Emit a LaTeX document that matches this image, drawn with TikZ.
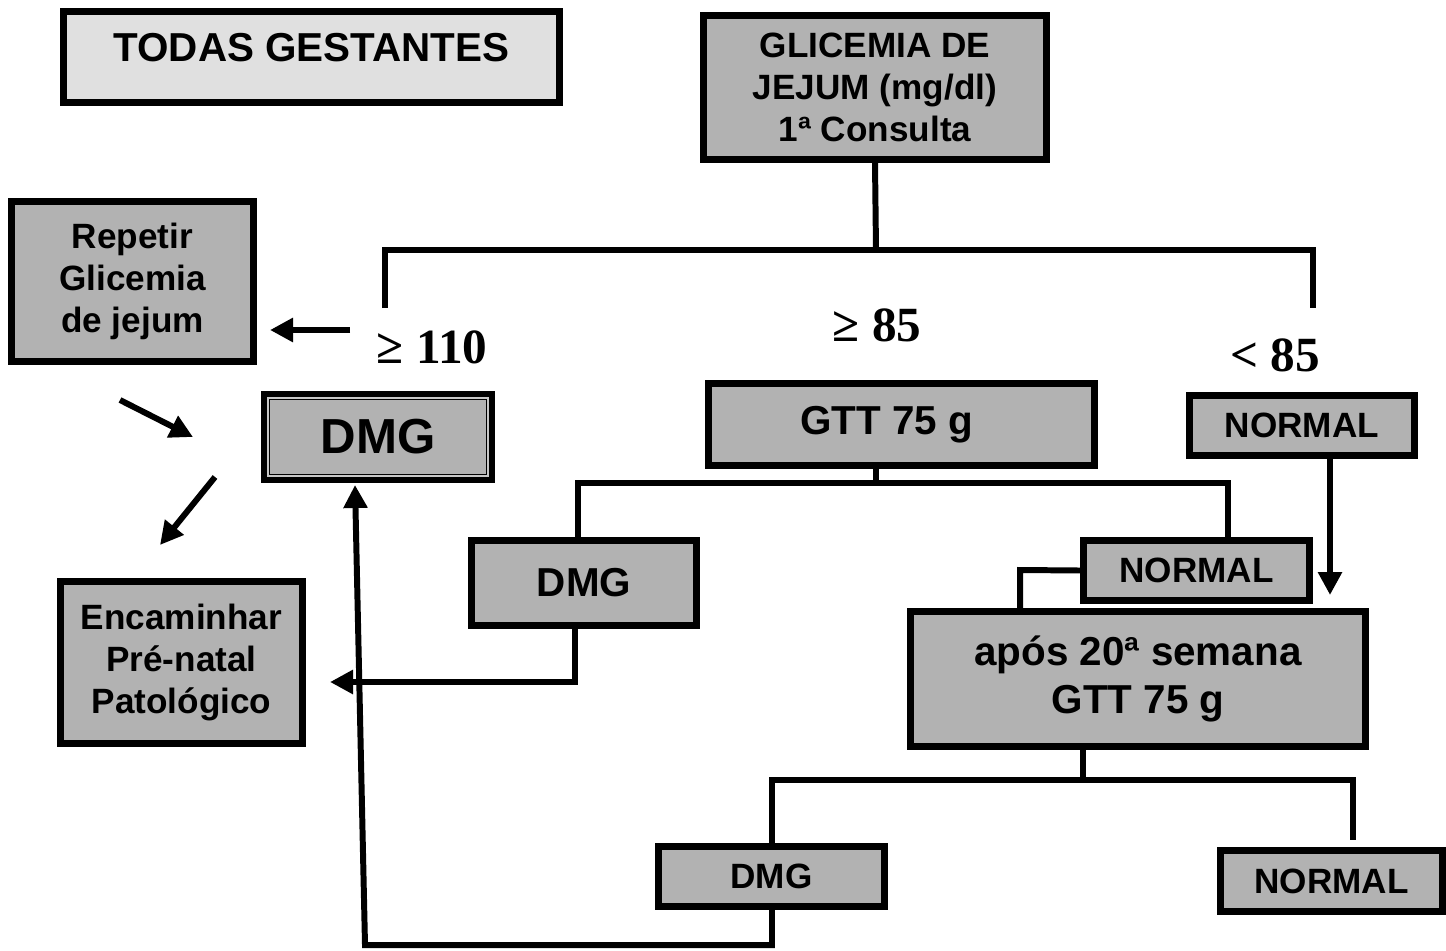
\documentclass[tikz,border=0pt]{standalone}
\usepackage{fontspec}
\setmainfont{Liberation Sans}
\newfontfamily\timesfont{Liberation Serif}
\usepackage{xcolor}
\usepackage{tikz}
\usetikzlibrary{arrows.meta}

\definecolor{boxfill}{gray}{0.70}
\definecolor{topfill}{gray}{0.88}
\definecolor{rimfill}{gray}{0.78}

\begin{document}
\begin{tikzpicture}[x=0.02cm, y=-0.02cm,
    box/.style={draw, line width=4pt, fill=boxfill, align=center, inner sep=0pt,
        font=\bfseries\fontsize{20}{24}\selectfont},
    link/.style={line width=3.4pt},
    arr/.style={line width=3.4pt, -{Triangle[length=0.46cm, width=0.46cm]}},
    cutoff/.style={font=\timesfont\bfseries\fontsize{28}{30}\selectfont}]
        \useasboundingbox (0,0) rectangle (1446,950);

        \node[box, fill=topfill, minimum width=9.92cm, minimum height=1.82cm,
            font=\bfseries\fontsize{23}{26}\selectfont] (Todas) at (311.5,57)
            {\raisebox{0.4cm}{TODAS GESTANTES}};
        \node[box, minimum width=6.86cm, minimum height=2.88cm] (Glicemia) at (875,87.5)
            {GLICEMIA DE\\JEJUM (mg/dl)\\1ª Consulta};
        \node[box, minimum width=4.84cm, minimum height=3.2cm] (Repetir) at (132.5,281.5)
            {Repetir\\Glicemia\\de jejum};
        \node[box, line width=5pt, minimum width=4.5cm, minimum height=1.66cm,
            font=\bfseries\fontsize{28}{30}\selectfont] (DmgA) at (378,437) {DMG};
        \draw[rimfill, line width=1.5pt] ([shift={(0.14cm,-0.14cm)}]DmgA.north west)
            rectangle ([shift={(-0.14cm,0.14cm)}]DmgA.south east);
        \node[box, minimum width=7.72cm, minimum height=1.64cm,
            font=\bfseries\fontsize{23}{26}\selectfont] (GttA) at (901.5,424.5)
            {GTT 75 g\hspace{0.6cm}};
        \node[box, minimum width=4.5cm, minimum height=1.2cm] (NormalA) at (1302,425.5) {NORMAL};
        \node[box, minimum width=4.5cm, minimum height=1.7cm,
            font=\bfseries\fontsize{23}{26}\selectfont] (DmgB) at (584,583) {DMG};
        \node[box, minimum width=4.52cm, minimum height=1.2cm] (NormalB) at (1196.5,570.5) {NORMAL};
        \node[box, minimum width=9.1cm, minimum height=2.7cm,
            font=\bfseries\fontsize{23}{27}\selectfont] (GttB) at (1138,679) {após 20ª semana\\GTT 75 g};
        \node[box, minimum width=4.84cm, minimum height=3.24cm] (Encaminhar) at (181.5,662.5)
            {Encaminhar\\Pré-natal\\Patológico};
        \node[box, minimum width=4.52cm, minimum height=1.2cm] (DmgC) at (771.5,876.5) {DMG};
        \node[box, minimum width=4.44cm, minimum height=1.22cm] (NormalC) at (1331.5,881) {NORMAL};

        \node[cutoff] (Ge110) at (432,347) {≥ 110};
        \node[cutoff] (Ge85) at (877,325) {≥ 85};
        \node[cutoff] (Lt85) at (1275,355) {< 85};

        % first split
        \coordinate (BusA) at (876,250);
        \coordinate (LegL) at (385,308);
        \coordinate (LegR) at (1313,308);
        \draw[link] (Glicemia.south) -- (BusA);
        \draw[link] (LegL) |- (BusA) -| (LegR);

        \coordinate (RepFrom) at (350,330);
        \coordinate (RepTo) at (270,330);
        \coordinate (DiagA1) at (120,400);
        \coordinate (DiagA2) at (193,437);
        \coordinate (DiagB1) at (215,477);
        \coordinate (DiagB2) at (160,545);
        \draw[arr] (RepFrom) -- (RepTo);
        \draw[arr] (DiagA1) -- (DiagA2);
        \draw[arr] (DiagB1) -- (DiagB2);

        % GTT split
        \coordinate (BusB) at (876,483);
        \coordinate (BusBL) at (578,483);
        \coordinate (BusBR) at (1228,483);
        \draw[link] (GttA.south -| BusB) -- (BusB);
        \draw[link] (BusBL |- DmgB.north) -- (BusBL) -- (BusBR) -- (BusBR |- NormalB.north);

        \coordinate (TipA) at (1330,595);
        \draw[arr] (NormalA.south -| TipA) -- (TipA);

        \coordinate (KneeB) at (1020,570);
        \draw[link] (NormalB.west) -- (KneeB) -- (KneeB |- GttB.north);

        \coordinate (KneeC) at (575,682);
        \coordinate (TipC) at (330,682);
        \draw[arr] (DmgB.south -| KneeC) -- (KneeC) -- (TipC);

        % after 20th week
        \coordinate (BusC) at (1083,780);
        \coordinate (BusCL) at (772,780);
        \coordinate (BusCR) at (1353,780);
        \coordinate (LegC) at (1353,840);
        \draw[link] (GttB.south -| BusC) -- (BusC);
        \draw[link] (BusCL |- DmgC.north) -- (BusCL) -- (BusCR) -- (LegC);

        \coordinate (KneeD) at (772,945);
        \coordinate (KneeE) at (365,945);
        \coordinate (TipE) at (355,485);
        \draw[arr] (DmgC.south -| KneeD) -- (KneeD) -- (KneeE) -- (TipE);

    \end{tikzpicture}
\end{document}
